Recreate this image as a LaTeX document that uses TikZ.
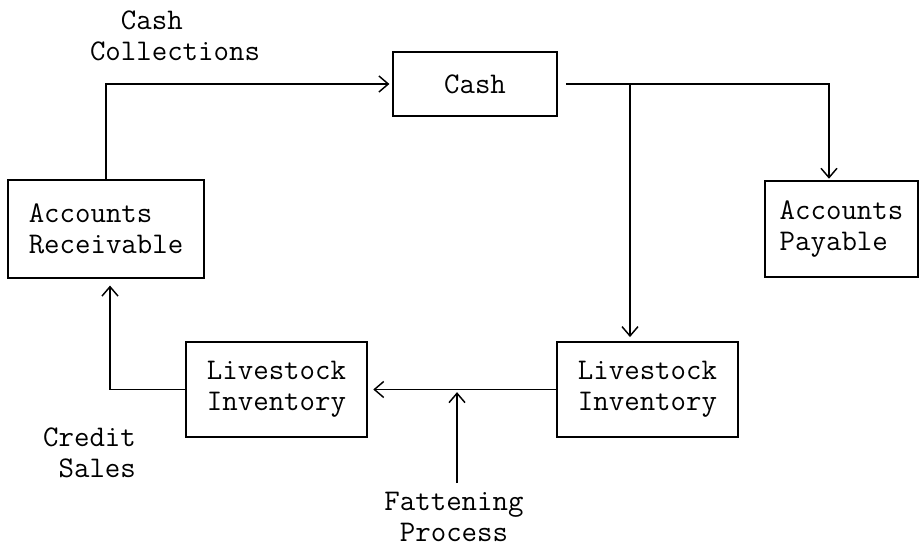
\documentclass[tikz,border=0pt]{standalone}
\usepackage{fontspec}
\usetikzlibrary{arrows.meta}
\begin{document}
\begin{tikzpicture}[x=0.75pt,y=-0.75pt,
  font=\ttfamily\fontsize{22.5}{23.5}\selectfont,
  box/.style={draw,line width=1.4pt,rectangle,inner sep=0pt,align=left},
  lbl/.style={inner sep=0pt},
  arr/.style={line width=1.4pt,-{Straight Barb[length=7pt,width=12pt,line width=1.1pt]}}]
\useasboundingbox (0,0) rectangle (920,549);
% boxes
\node[box,minimum width=164*0.75pt,minimum height=64*0.75pt] (cash) at (475,84) {Cash};
\node[box,minimum width=196*0.75pt,minimum height=98*0.75pt] (ar) at (106,229) {Accounts\\Receivable};
\node[box,minimum width=153*0.75pt,minimum height=96*0.75pt] (ap) at (841.5,229) {Accounts\\Payable};
\node[box,minimum width=181*0.75pt,minimum height=95*0.75pt] (li1) at (276.5,389.5) {Livestock\\Inventory};
\node[box,minimum width=181*0.75pt,minimum height=95*0.75pt] (li2) at (647.5,389.5) {Livestock\\Inventory};
% labels
\node[lbl,align=left] (cc) at (175,36) {\phantom{Co}Cash\\Collections};
\node[lbl,align=right] (cs) at (89.5,453) {Credit\\Sales};
\node[lbl,align=center] (fp) at (454,517) {Fattening\\Process};
% connectors
\coordinate (j) at (630,84);
\coordinate (fs) at (457,483);
\draw[arr,shorten >=2pt] (ar.north) |- (cash.west);
\draw[arr,shorten <=6pt,shorten >=1pt] (cash.east) -| ([xshift=-12.5*0.75pt]ap.north);
\draw[arr,shorten >=3pt] (j) -- (j |- li2.north);
\draw[arr,shorten >=4pt] (li2.west) -- (li1.east);
\draw[arr,shorten >=5pt] (li1.west) -| ([xshift=4*0.75pt]ar.south);
\draw[arr,shorten >=2pt] (fs) -- (fs |- li1.east);
\end{tikzpicture}
\end{document}
